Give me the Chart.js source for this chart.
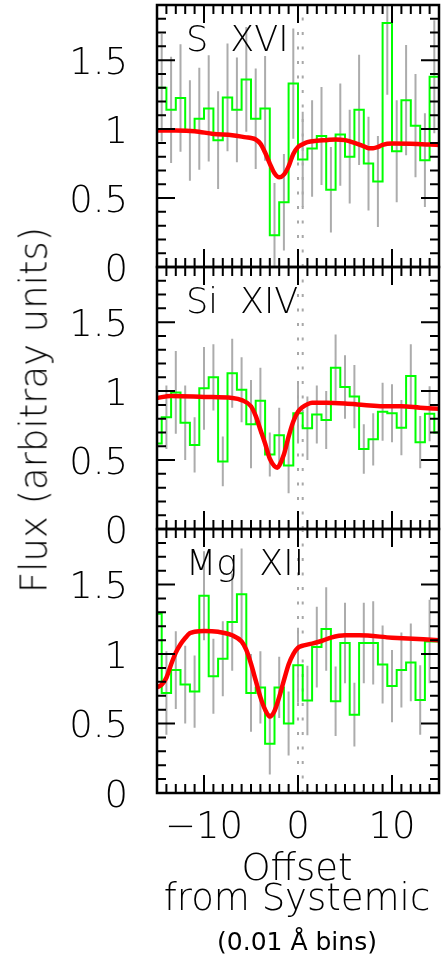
<!DOCTYPE html>
<html>
<head>
<meta charset="utf-8">
<script src="https://cdn.jsdelivr.net/npm/chart.js@4.4.1/dist/chart.umd.min.js"></script>
<style>
html, body { margin: 0; padding: 0; background: #fff; }
body { width: 441px; height: 961px; position: relative; overflow: hidden; font-family: 'DejaVu Sans', sans-serif; color: #000; }
canvas { position: absolute; left: 0; }
.t { position: absolute; white-space: nowrap; font-weight: 200; }
#ytitle { left: 34px; top: 410px; font-size: 37px; line-height: 37px; transform: translate(-50%, -50%) rotate(-90deg); }
.xl { left: 297px; transform: translateX(-50%); font-size: 37px; line-height: 37px; }
</style>
</head>
<body>
<canvas id="c1" width="441" height="382" style="top:-55px"></canvas>
<canvas id="c2" width="441" height="382" style="top:207px"></canvas>
<canvas id="c3" width="441" height="384" style="top:469px"></canvas>
<div class="t" id="ytitle">Flux (arbitray units)</div>
<div class="t xl" style="top:849px">Offset</div>
<div class="t xl" style="top:879px">from Systemic</div>
<div class="t xl" style="top:929px;font-size:25px;line-height:25px;font-weight:400">(0.01 Å bins)</div>
<script>
// axis ranges and tick labels
const X_MIN = -15, X_MAX = 15, Y_MIN = 0, Y_MAX = 1.9;
const xTicks = [-10, 0, 10];
const yTicks = [0, 0.5, 1, 1.5];
const sysLines = [0, 0.5];

// S XVI: bins centred on half-integers
const bins1 = [-14.5, -13.5, -12.5, -11.5, -10.5, -9.5, -8.5, -7.5, -6.5, -5.5, -4.5, -3.5, -2.5, -1.5, -0.5,
               0.5, 1.5, 2.5, 3.5, 4.5, 5.5, 6.5, 7.5, 8.5, 9.5, 10.5, 11.5, 12.5, 13.5, 14.5];
const flux1 = [1.30, 1.14, 1.225, 0.99, 1.075, 1.15, 0.92, 1.23, 1.14, 1.36, 1.075, 1.15, 0.23, 0.47, 1.33,
               0.78, 0.86, 0.95, 0.56, 0.96, 0.80, 1.14, 0.75, 0.62, 1.77, 0.84, 1.21, 1.025, 0.775, 1.38];
const err1  = [0.39, 0.385, 0.39, 0.365, 0.37, 0.385, 0.355, 0.39, 0.38, 0.38, 0.365, 0.38, 0.38, 0.35, 0.40,
               0.345, 0.35, 0.355, 0.31, 0.37, 0.34, 0.40, 0.34, 0.33, 0.52, 0.37, 0.40, 0.375, 0.34, 0.41];
const modelX1 = [-15, -13, -11, -9, -7, -5.5, -5, -4.5, -4, -3.5, -3, -2.5, -2, -1.5, -1, -0.5, 0, 0.5, 1, 2, 3,
                 4, 5, 6, 7, 7.5, 8, 8.5, 9, 10, 12, 14, 15];
const modelY1 = [0.99, 0.99, 0.985, 0.965, 0.955, 0.94, 0.935, 0.925, 0.895, 0.83, 0.75, 0.68, 0.65, 0.67, 0.73,
                 0.82, 0.87, 0.89, 0.905, 0.915, 0.92, 0.925, 0.92, 0.90, 0.875, 0.862, 0.862, 0.87, 0.885,
                 0.895, 0.893, 0.888, 0.885];

// Si XIV and Mg XII: bins centred on integers
const bins23 = [-15, -14, -13, -12, -11, -10, -9, -8, -7, -6, -5, -4, -3, -2, -1, 0,
                1, 2, 3, 4, 5, 6, 7, 8, 9, 10, 11, 12, 13, 14, 15];
const flux2 = [0.62, 0.81, 0.99, 0.77, 0.61, 1.02, 1.10, 0.49, 1.13, 1.01, 0.76, 0.93, 0.54, 0.68, 0.46, 0.84,
               0.73, 0.83, 0.79, 1.17, 1.03, 0.96, 0.58, 0.65, 0.85, 0.84, 0.735, 1.11, 0.63, 0.836, 0.70];
const err2  = [0.25, 0.23, 0.30, 0.27, 0.20, 0.30, 0.24, 0.18, 0.25, 0.235, 0.32, 0.24, 0.16, 0.20, 0.20, 0.22,
               0.23, 0.21, 0.21, 0.24, 0.23, 0.23, 0.18, 0.19, 0.21, 0.21, 0.20, 0.23, 0.19, 0.20, 0.20];
const modelX2 = [-15, -13.5, -10, -7, -6, -5, -4.5, -4, -3.5, -3, -2.5, -2.2, -2, -1.5, -1, -0.5, 0, 0.5, 1, 1.5,
                 3, 5, 7, 9, 11, 13, 15];
const modelY2 = [0.95, 0.965, 0.958, 0.95, 0.935, 0.89, 0.82, 0.72, 0.62, 0.51, 0.455, 0.445, 0.46, 0.54, 0.67,
                 0.78, 0.85, 0.885, 0.905, 0.915, 0.915, 0.91, 0.90, 0.89, 0.89, 0.88, 0.872];

const flux3 = [1.29, 0.72, 0.885, 0.78, 0.73, 1.42, 0.84, 0.966, 1.23, 1.43, 0.72, 0.76, 0.354, 0.76, 0.50, 0.92,
               0.665, 1.05, 1.18, 0.66, 1.08, 0.564, 1.08, 1.08, 0.925, 0.77, 0.885, 0.94, 0.67, 1.09, 1.09];
const err3  = [0.30, 0.30, 0.28, 0.28, 0.26, 0.32, 0.27, 0.27, 0.35, 0.33, 0.28, 0.26, 0.22, 0.22, 0.23, 0.27,
               0.25, 0.29, 0.30, 0.25, 0.29, 0.23, 0.29, 0.30, 0.28, 0.26, 0.27, 0.28, 0.25, 0.30, 0.30];
const modelX3 = [-15, -14.5, -14, -13.5, -13, -12.5, -12, -11.5, -11, -10, -8.5, -7, -6, -5.5, -5, -4.5, -4, -3.5,
                 -3, -2.5, -2, -1.5, -1, -0.5, 0, 0.5, 1.5, 2.5, 3.5, 5, 6.5, 10, 15];
const modelY3 = [0.76, 0.78, 0.83, 0.925, 1.01, 1.07, 1.115, 1.15, 1.16, 1.166, 1.16, 1.135, 1.09, 1.03, 0.93,
                 0.81, 0.69, 0.60, 0.55, 0.59, 0.69, 0.81, 0.925, 1.0, 1.045, 1.06, 1.075, 1.094, 1.118, 1.135,
                 1.135, 1.118, 1.10];

const FONT = "'DejaVu Sans'";

// frame with inward ticks on all four sides + ion label
const panelPlugin = {
  id: 'panel',
  afterDatasetsDraw(chart, args, opts) {
    const { ctx, chartArea: a, scales: { x, y } } = chart;
    ctx.save();
    ctx.strokeStyle = '#000';
    ctx.lineWidth = 2;
    ctx.beginPath();
    for (let i = 1; i <= 18; i++) {
      const py = y.getPixelForValue(i / 10), len = i % 5 ? 9 : 18;
      ctx.moveTo(a.left, py); ctx.lineTo(a.left + len, py);
      ctx.moveTo(a.right, py); ctx.lineTo(a.right - len, py);
    }
    for (let v = -14; v <= 14; v++) {
      const px = x.getPixelForValue(v), len = v % 10 ? 9 : 18;
      ctx.moveTo(px, a.top); ctx.lineTo(px, a.top + len);
      ctx.moveTo(px, a.bottom); ctx.lineTo(px, a.bottom - len);
    }
    ctx.stroke();
    ctx.lineWidth = 2.5;
    ctx.strokeRect(a.left, a.top, a.right - a.left, a.bottom - a.top);
    ctx.fillStyle = '#000';
    ctx.font = `200 35px ${FONT}`;
    ctx.wordSpacing = '11px';
    ctx.textAlign = 'left';
    ctx.textBaseline = 'alphabetic';
    ctx.fillText(opts.text, a.left + 29, a.top + 46);
    ctx.restore();
  }
};

function makeChart(id, bins, flux, err, mx, my, label, showX) {
  const hist = [];
  bins.forEach((c, i) => {
    hist.push({ x: Math.max(c - 0.5, X_MIN), y: flux[i] });
    hist.push({ x: Math.min(c + 0.5, X_MAX), y: flux[i] });
  });
  const bars = [];
  bins.forEach((c, i) => {
    bars.push({ x: c, y: flux[i] - err[i] }, { x: c, y: flux[i] + err[i] }, { x: c, y: null });
  });
  const model = mx.map((x, i) => ({ x, y: my[i] }));
  const tickFont = { family: FONT, size: 37, weight: 200 };

  return new Chart(document.getElementById(id), {
    type: 'line',
    data: {
      datasets: [
        { data: model, borderColor: '#ff0000', borderWidth: 4.5, cubicInterpolationMode: 'monotone',
          borderCapStyle: 'round', borderJoinStyle: 'round', order: 0 },
        { data: hist, borderColor: '#00ff00', borderWidth: 2, tension: 0, order: 1 },
        ...sysLines.map(x => ({ data: [{ x, y: Y_MIN }, { x, y: Y_MAX }], borderColor: '#a8a8a8',
          borderWidth: 2, borderDash: [3, 11.5], order: 2 })),
        { data: bars, borderColor: '#acacac', borderWidth: 2, spanGaps: false, order: 3 }
      ]
    },
    options: {
      responsive: false,
      animation: false,
      devicePixelRatio: 1,
      layout: { padding: { top: 60, bottom: showX ? 10 : 60, left: 0, right: 2 } },
      elements: { point: { radius: 0, hoverRadius: 0 } },
      plugins: { legend: { display: false }, tooltip: { enabled: false }, panel: { text: label } },
      scales: {
        x: {
          type: 'linear', min: X_MIN, max: X_MAX, display: showX,
          grid: { display: false, drawTicks: false }, border: { display: false },
          afterBuildTicks: s => { s.ticks = xTicks.map(v => ({ value: v })); },
          afterFit: s => { if (showX) s.height = 50; },
          ticks: { padding: 13, color: '#000', font: tickFont, maxRotation: 0, autoSkip: false,
                   callback: v => v < 0 ? '\u2212' + Math.abs(v) : String(v) }
        },
        y: {
          min: Y_MIN, max: Y_MAX,
          grid: { display: false, drawTicks: false }, border: { display: false },
          afterBuildTicks: s => { s.ticks = yTicks.map(v => ({ value: v })); },
          afterFit: s => { s.width = 157; },
          ticks: { padding: 29, labelOffset: 4, color: '#000', font: tickFont, autoSkip: false,
                   callback: v => String(v) }
        }
      }
    },
    plugins: [panelPlugin]
  });
}

makeChart('c1', bins1, flux1, err1, modelX1, modelY1, 'S XVI', false);
makeChart('c2', bins23, flux2, err2, modelX2, modelY2, 'Si XIV', false);
makeChart('c3', bins23, flux3, err3, modelX3, modelY3, 'Mg XII', true);
</script>
</body>
</html>
